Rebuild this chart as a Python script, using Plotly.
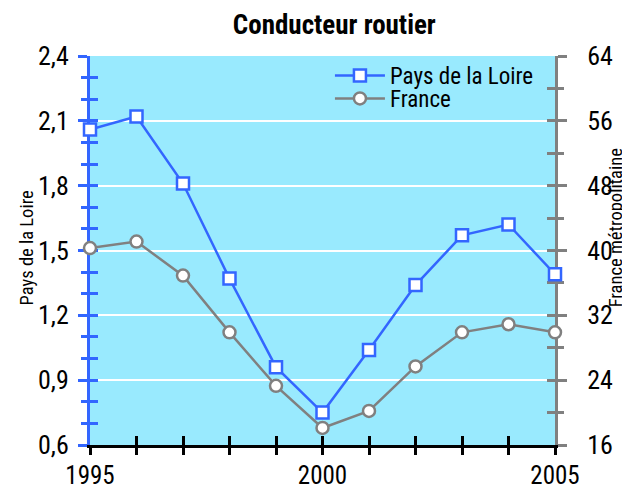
import plotly.graph_objects as go

years = [1995, 1996, 1997, 1998, 1999, 2000, 2001, 2002, 2003, 2004, 2005]
pays_de_la_loire = [2.06, 2.12, 1.81, 1.37, 0.96, 0.75, 1.04, 1.34, 1.57, 1.62, 1.39]
france = [40.3, 41.1, 36.9, 29.9, 23.3, 18.1, 20.2, 25.7, 29.9, 30.9, 29.9]
x_labels = [1995, 2000, 2005]
left_ticks = [0.6, 0.9, 1.2, 1.5, 1.8, 2.1, 2.4]
right_ticks = [16, 24, 32, 40, 48, 56, 64]

FONT = "Roboto Condensed, Liberation Sans Narrow, DejaVu Sans Condensed, sans-serif"
BLUE = "#3366FF"
GRAY = "#808080"
BG = "#99EAFE"


def f(size):
    return dict(family=FONT, size=size, color="black")


fig = go.Figure()
fig.add_trace(go.Scatter(
    x=years, y=pays_de_la_loire, name="Pays de la Loire", mode="lines+markers",
    line=dict(color=BLUE, width=2.5),
    marker=dict(symbol="square", size=12, color="white", line=dict(color=BLUE, width=2.5)),
    cliponaxis=False, yaxis="y", legend="legend"))
fig.add_trace(go.Scatter(
    x=years, y=france, name="France", mode="lines+markers",
    line=dict(color=GRAY, width=2.5),
    marker=dict(symbol="circle", size=12, color="white", line=dict(color=GRAY, width=2.5)),
    cliponaxis=False, yaxis="y2", legend="legend2"))
# empty helper traces so the tick-only overlay axes are drawn
fig.add_trace(go.Scatter(x=[], y=[], yaxis="y3", showlegend=False, hoverinfo="skip"))
fig.add_trace(go.Scatter(x=[], y=[], yaxis="y4", showlegend=False, hoverinfo="skip"))
fig.add_trace(go.Scatter(x=[], y=[], xaxis="x2", yaxis="y", showlegend=False, hoverinfo="skip"))
fig.add_trace(go.Scatter(x=[], y=[], xaxis="x3", yaxis="y", showlegend=False, hoverinfo="skip"))

xr = [years[0], years[-1]]
lr = [left_ticks[0], left_ticks[-1]]
rr = [right_ticks[0], right_ticks[-1]]

legend_style = dict(x=0.516, xanchor="left", yanchor="top", bgcolor="rgba(0,0,0,0)",
                    font=f(23), itemwidth=50)

fig.update_layout(
    width=630, height=492,
    margin=dict(l=82, r=83, t=48, b=55),
    paper_bgcolor="white", plot_bgcolor=BG,
    separators=", ",
    font=f(22),
    title=dict(text="<b>Conducteur routier</b>", xref="container", x=0.518, xanchor="center",
               yref="container", y=0.967, yanchor="middle", font=f(27)),
    showlegend=True,
    legend=dict(y=1.005, **legend_style),
    legend2=dict(y=0.946, **legend_style),
    xaxis=dict(range=xr, tickvals=x_labels, ticktext=[str(v) for v in x_labels],
               ticks="",
               showline=True, linecolor="black", linewidth=3, showgrid=False, zeroline=False,
               tickfont=f(25), ticklabelstandoff=6, layer="below traces", automargin=False),
    xaxis2=dict(range=xr, overlaying="x", side="bottom", anchor="y",
                tickvals=years, ticks="inside", ticklen=9, tickwidth=3, tickcolor="black",
                showticklabels=False, showgrid=False, zeroline=False, showline=False, layer="below traces"),
    xaxis3=dict(range=xr, overlaying="x", side="bottom", anchor="y",
                tickvals=years, ticks="outside", ticklen=9, tickwidth=3, tickcolor="black",
                showticklabels=False, showgrid=False, zeroline=False, showline=False, layer="below traces"),
    yaxis=dict(range=lr, tickvals=left_ticks, tickformat=".1f",
               ticks="outside", ticklen=9, tickwidth=3, tickcolor=BLUE,
               minor=dict(dtick=0.1, tick0=0.6, ticks="outside", ticklen=6, tickwidth=3, tickcolor=BLUE, showgrid=False),
               showline=True, linecolor=BLUE, linewidth=3,
               showgrid=True, gridcolor="white", gridwidth=2, zeroline=False,
               tickfont=f(26), ticklabelstandoff=4, layer="below traces", automargin=False),
    yaxis3=dict(range=lr, overlaying="y", side="left", anchor="x",
                tickvals=[round(0.6 + 0.1 * i, 1) for i in range(19)],
                ticks="inside", ticklen=8, tickwidth=3, tickcolor=BLUE,
                showticklabels=False, showgrid=False, zeroline=False, showline=False, layer="below traces"),
    yaxis2=dict(range=rr, overlaying="y", side="right", anchor="x", tickvals=right_ticks,
                ticks="outside", ticklen=9, tickwidth=3, tickcolor=GRAY,
                minor=dict(dtick=4, tick0=16, ticks="outside", ticklen=6, tickwidth=3, tickcolor=GRAY, showgrid=False),
                showline=True, linecolor=GRAY, linewidth=3, showgrid=False, zeroline=False,
                tickfont=f(26), ticklabelstandoff=15, layer="below traces", automargin=False),
    yaxis4=dict(range=rr, overlaying="y", side="right", anchor="x",
                tickvals=list(range(16, 65, 4)),
                ticks="inside", ticklen=8, tickwidth=3, tickcolor=GRAY,
                showticklabels=False, showgrid=False, zeroline=False, showline=False, layer="below traces"),
    annotations=[
        dict(text="Pays de la Loire", textangle=-90, xref="paper", yref="paper",
             x=-0.135, y=0.506, xanchor="center", yanchor="middle", showarrow=False,
             font=f(18.5)),
        dict(text="France métropolitaine", textangle=-90, xref="paper", yref="paper",
             x=1.132, y=0.558, xanchor="center", yanchor="middle", showarrow=False,
             font=f(18.5)),
    ],
)

fig.write_html("out.html")
